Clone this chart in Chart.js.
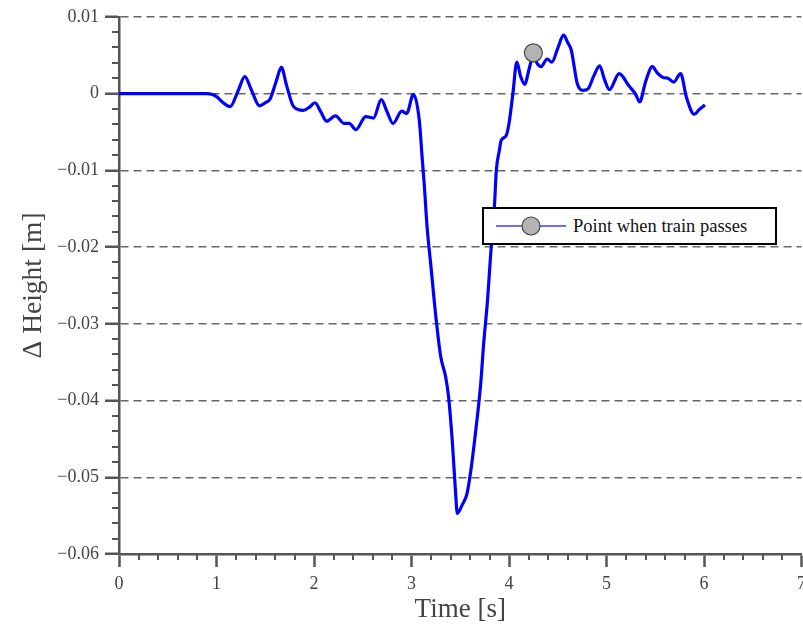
<!DOCTYPE html>
<html>
<head>
<meta charset="utf-8">
<title>Height change when train passes</title>
<script src="https://cdn.jsdelivr.net/npm/chart.js@4.4.1/dist/chart.umd.min.js"></script>
<style>
    html, body { margin: 0; padding: 0; background: #fff; overflow: hidden; }
    .wrap { position: relative; width: 812px; height: 632px; }
    .legend {
        position: absolute; left: 482px; top: 207px; width: 295px; height: 38px;
        box-sizing: border-box; border: 2px solid #000; background: #fff;
        font-family: "Liberation Serif", serif; font-size: 18.5px; color: #111;
        display: flex; align-items: center;
    }
    .legend svg { margin-left: 12px; margin-right: 5px; }
</style>
</head>
<body>
<div class="wrap">
    <canvas id="heightChart"></canvas>
    <div class="legend">
        <svg width="72" height="22" viewBox="0 0 72 22">
            <line x1="0" y1="11" x2="70" y2="11" stroke="#3b3bff" stroke-width="1.5"/>
            <circle cx="35" cy="11" r="9" fill="#b3b3b3" stroke="#444" stroke-width="1.2"/>
        </svg>
        <span>Point when train passes</span>
    </div>
</div>
<script>
const timeS = [0, 0.5, 0.9, 0.95, 1.0, 1.07, 1.14, 1.22, 1.29, 1.36, 1.44, 1.5, 1.55, 1.61, 1.665, 1.72,
    1.79, 1.89, 1.95, 2.01, 2.07, 2.13, 2.22, 2.31, 2.36, 2.43, 2.53, 2.61, 2.69, 2.75, 2.81, 2.9,
    2.95, 3.02, 3.08, 3.11, 3.13, 3.16, 3.2, 3.25, 3.3, 3.35, 3.38, 3.42, 3.45, 3.47, 3.52, 3.57,
    3.61, 3.66, 3.71, 3.74, 3.78, 3.81, 3.85, 3.87, 3.9, 3.92, 3.97, 4.0, 4.04, 4.08, 4.12, 4.16,
    4.21, 4.25, 4.29, 4.33, 4.39, 4.44, 4.5, 4.56, 4.6, 4.64, 4.67, 4.7, 4.76, 4.81, 4.87, 4.93,
    4.98, 5.03, 5.13, 5.23, 5.3, 5.34, 5.4, 5.47, 5.52, 5.58, 5.63, 5.69, 5.76, 5.82, 5.9, 5.95, 6.01];

const heightM = [0, 0, 0, -0.0001, -0.0004, -0.0012, -0.0017, 0.0003, 0.0022, 0.0004, -0.0016, -0.0012, -0.0007, 0.0015, 0.0034, 0.0010,
    -0.0017, -0.0022, -0.0018, -0.0012, -0.0024, -0.0036, -0.0029, -0.0039, -0.0039, -0.0047, -0.0030, -0.0032, -0.0008, -0.0024, -0.0039, -0.0023,
    -0.0026, -0.0001, -0.0035, -0.0085, -0.0117, -0.0174, -0.0226, -0.0291, -0.0343, -0.0369, -0.0395, -0.0456, -0.0516, -0.0547, -0.0536, -0.0521,
    -0.0490, -0.0438, -0.0378, -0.0326, -0.0269, -0.0213, -0.0148, -0.0100, -0.0075, -0.0061, -0.0055, -0.0039, 0.0000, 0.0041, 0.0022, 0.0012,
    0.0034, 0.0050, 0.0039, 0.0035, 0.0045, 0.0041, 0.0059, 0.0076, 0.0067, 0.0056, 0.0034, 0.0013, 0.0004, 0.0006, 0.0023, 0.0036,
    0.0018, 0.0005, 0.0026, 0.0010, -0.0001, -0.0011, 0.0015, 0.0035, 0.0027, 0.0021, 0.0020, 0.0015, 0.0026, -0.0005, -0.0027, -0.0021, -0.0015];

const passTime = [4.25];
const passHeight = [0.0053];

const xRange = [0, 7];
const yRange = [-0.06, 0.01];
const xMinorStep = 0.2;
const yMinorStep = 0.002;

const axisColor = "#555";
const textColor = "#444";
const serif = "'Liberation Serif', 'Times New Roman', serif";

function formatHeight(v) {
    if (Math.abs(v) < 1e-9) return "0";
    return (v < 0 ? "\u2212" : "") + Math.abs(v).toFixed(2);
}

// small ticks between the labelled ones
const minorTicks = {
    id: "minorTicks",
    afterDraw(chart) {
        const { ctx, scales: { x, y } } = chart;
        ctx.save();
        ctx.strokeStyle = axisColor;
        ctx.lineWidth = 2;
        ctx.beginPath();
        const nx = Math.round((xRange[1] - xRange[0]) / xMinorStep);
        for (let i = 1; i < nx; i++) {
            if (i % 5 === 0) continue;
            const px = Math.round(x.getPixelForValue(xRange[0] + i * xMinorStep));
            ctx.moveTo(px, x.top);
            ctx.lineTo(px, x.top + 6);
        }
        const ny = Math.round((yRange[1] - yRange[0]) / yMinorStep);
        for (let i = 1; i < ny; i++) {
            if (i % 5 === 0) continue;
            const py = Math.round(y.getPixelForValue(yRange[0] + i * yMinorStep));
            ctx.moveTo(y.right, py);
            ctx.lineTo(y.right - 7, py);
        }
        ctx.stroke();
        ctx.restore();
    }
};

new Chart(document.getElementById("heightChart"), {
    type: "scatter",
    data: {
        datasets: [{
            label: "Point when train passes",
            data: passTime.map((t, i) => ({ x: t, y: passHeight[i] })),
            pointRadius: 9,
            pointBackgroundColor: "#b3b3b3",
            pointBorderColor: "#444",
            pointBorderWidth: 1.2,
            showLine: false
        }, {
            label: "\u0394 Height",
            data: timeS.map((t, i) => ({ x: t, y: heightM[i] })),
            showLine: true,
            borderColor: "#0000ff",
            borderWidth: 3.2,
            pointRadius: 0,
            cubicInterpolationMode: "monotone"
        }]
    },
    options: {
        responsive: true,
        maintainAspectRatio: false,
        animation: false,
        layout: { padding: { top: 16, right: 10, left: 0, bottom: 0 } },
        plugins: {
            legend: { display: false },
            tooltip: { enabled: false }
        },
        scales: {
            x: {
                type: "linear",
                min: xRange[0],
                max: xRange[1],
                afterFit: scale => { scale.height = 78; },
                ticks: {
                    stepSize: 1,
                    color: textColor,
                    padding: 6,
                    maxRotation: 0,
                    font: { family: serif, size: 18 }
                },
                grid: {
                    drawOnChartArea: false,
                    drawTicks: true,
                    tickLength: 13,
                    tickWidth: 2.5,
                    tickColor: axisColor
                },
                border: { display: true, color: axisColor, width: 2.5 },
                title: {
                    display: true,
                    text: "Time [s]",
                    color: textColor,
                    font: { family: serif, size: 27 },
                    padding: { top: 0, bottom: 6 }
                }
            },
            y: {
                min: yRange[0],
                max: yRange[1],
                afterFit: scale => { scale.width = 119; },
                ticks: {
                    stepSize: 0.01,
                    color: textColor,
                    padding: 6,
                    font: { family: serif, size: 18 },
                    callback: v => formatHeight(v)
                },
                grid: {
                    drawOnChartArea: true,
                    color: "#666",
                    lineWidth: 1.5,
                    tickLength: 14,
                    tickWidth: 2.5,
                    tickColor: axisColor,
                    tickBorderDash: []
                },
                border: { display: true, color: axisColor, width: 2.5, dash: [8, 5] },
                title: {
                    display: true,
                    text: "\u0394 Height [m]",
                    color: textColor,
                    font: { family: serif, size: 27.5 },
                    padding: { top: 17, bottom: 0 }
                }
            }
        }
    },
    plugins: [minorTicks]
});
</script>
</body>
</html>
